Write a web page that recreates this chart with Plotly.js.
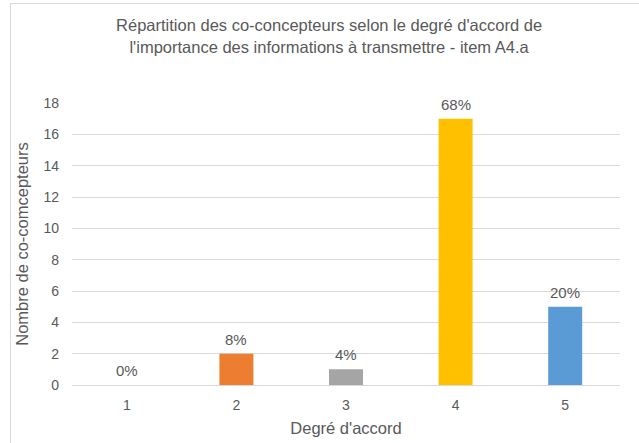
<!DOCTYPE html>
<html>
<head>
<meta charset="utf-8">
<script src="https://cdn.plot.ly/plotly-3.0.1.min.js"></script>
<style>
  html, body { margin: 0; padding: 0; background: #fff; }
  #wrap { position: relative; width: 639px; height: 443px; }
  #chart { width: 639px; height: 443px; }
  #frame { position: absolute; left: 10px; top: 3px; width: 640px; height: 445px;
           border-left: 1px solid #d9d9d9; border-top: 1px solid #d9d9d9; pointer-events: none; }
</style>
</head>
<body>
<div id="wrap">
  <div id="chart"></div>
  <div id="frame"></div>
</div>
<script>
const categories = ['1', '2', '3', '4', '5'];
const counts = [0, 2, 1, 17, 5];
const percentLabels = ['0%', '8%', '4%', '68%', '20%'];
const barColors = ['#4472C4', '#ED7D31', '#A5A5A5', '#FFC000', '#5B9BD5'];
const yTicks = [0, 2, 4, 6, 8, 10, 12, 14, 16, 18];

const font = 'Liberation Sans, Arial, sans-serif';
const grey = '#595959';

const trace = {
  type: 'bar',
  x: categories,
  y: counts,
  marker: { color: barColors },
  width: 0.31,
  hoverinfo: 'none'
};

// category axis: annotation x given as the category index
const labelAnnotations = categories.map((c, i) => ({
  x: i, y: counts[i], xref: 'x', yref: 'y',
  text: percentLabels[i], showarrow: false,
  xanchor: 'center', yanchor: 'bottom', yshift: 4,
  font: { family: font, size: 15, color: grey }
}));

const layout = {
  width: 639,
  height: 443,
  margin: { l: 72, r: 19, t: 103, b: 58 },
  paper_bgcolor: '#ffffff',
  plot_bgcolor: '#ffffff',
  showlegend: false,
  annotations: labelAnnotations,
  title: {
    text: "Répartition des co-concepteurs selon le degré d'accord de<br>l'importance des informations à transmettre - item A4.a",
    font: { family: font, size: 16.5, color: grey },
    x: 0.515, xanchor: 'center',
    y: 0.929, yanchor: 'top'
  },
  xaxis: {
    type: 'category',
    range: [-0.5, 4.5],
    tickfont: { family: font, size: 14, color: grey },
    ticks: '', showgrid: false, zeroline: false,
    showline: true, linecolor: '#d9d9d9', linewidth: 1,
    ticklabelstandoff: 7,
    title: { text: "Degré d'accord", font: { family: font, size: 16.5, color: grey }, standoff: 10 }
  },
  yaxis: {
    range: [0, 18],
    tickvals: yTicks,
    tickfont: { family: font, size: 14, color: grey },
    ticks: '', showgrid: true, gridcolor: '#d9d9d9', gridwidth: 1,
    zeroline: false, showline: false,
    ticklabelstandoff: 12,
    title: { text: 'Nombre de co-comcepteurs', font: { family: font, size: 16.5, color: grey }, standoff: 10 }
  }
};

Plotly.newPlot('chart', [trace], layout, { displayModeBar: false, staticPlot: true });
</script>
</body>
</html>
